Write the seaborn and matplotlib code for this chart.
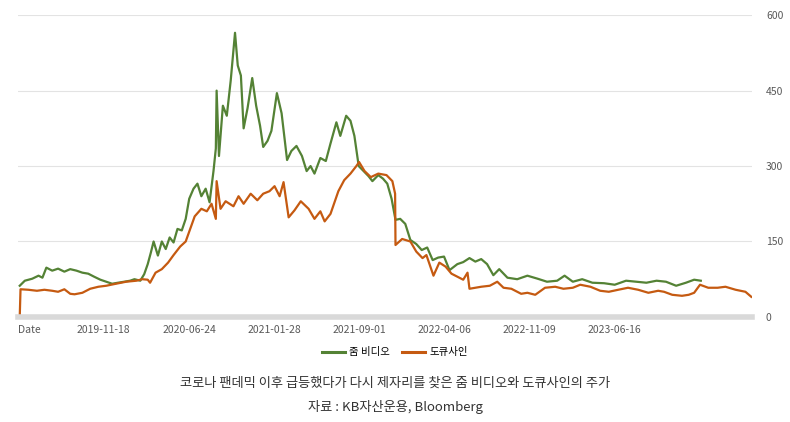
import matplotlib
matplotlib.use("Agg")
import matplotlib.pyplot as plt
import seaborn as sns
import pandas as pd

zoom_dates = ["2019-04-18","2019-05-01","2019-05-20","2019-06-05","2019-06-15","2019-06-25","2019-07-10","2019-07-25","2019-08-10","2019-08-25","2019-09-10","2019-09-25","2019-10-10","2019-10-25","2019-11-10","2019-11-25","2019-12-10","2019-12-25","2020-01-10","2020-01-25","2020-02-05","2020-02-20","2020-03-01","2020-03-10","2020-03-18","2020-03-25","2020-04-05","2020-04-15","2020-04-25","2020-05-05","2020-05-15","2020-05-25","2020-06-05","2020-06-15","2020-06-24","2020-07-05","2020-07-15","2020-07-25","2020-08-05","2020-08-15","2020-08-25","2020-08-31","2020-09-02","2020-09-08","2020-09-18","2020-09-28","2020-10-08","2020-10-19","2020-10-26","2020-11-03","2020-11-10","2020-11-20","2020-12-02","2020-12-12","2020-12-22","2020-12-30","2021-01-10","2021-01-20","2021-02-03","2021-02-15","2021-03-01","2021-03-12","2021-03-25","2021-04-08","2021-04-20","2021-04-30","2021-05-10","2021-05-25","2021-06-08","2021-06-20","2021-07-05","2021-07-15","2021-07-30","2021-08-10","2021-08-20","2021-08-31","2021-09-10","2021-09-25","2021-10-05","2021-10-20","2021-11-01","2021-11-12","2021-11-23","2021-12-03","2021-12-15","2021-12-28","2022-01-10","2022-01-25","2022-02-08","2022-02-22","2022-03-08","2022-03-22","2022-04-06","2022-04-20","2022-05-10","2022-05-25","2022-06-10","2022-06-25","2022-07-10","2022-07-25","2022-08-10","2022-08-25","2022-09-15","2022-10-10","2022-11-05","2022-12-01","2022-12-25","2023-01-20","2023-02-08","2023-03-01","2023-03-25","2023-04-20","2023-05-20","2023-06-16","2023-07-15","2023-08-10","2023-09-05","2023-10-01","2023-10-25","2023-11-20","2023-12-15","2024-01-05","2024-01-22"]
zoom_vals = [62,72,76,82,78,98,92,96,90,95,92,88,86,80,74,70,66,68,70,72,75,72,85,105,128,150,122,150,135,158,148,175,172,195,235,255,265,240,255,228,290,335,450,320,420,400,470,565,500,480,375,415,475,420,380,338,350,370,445,405,312,330,340,320,290,300,285,316,310,345,387,360,400,390,360,300,292,280,270,282,275,265,235,193,195,185,153,145,133,138,113,118,120,93,105,109,117,110,115,105,83,95,78,75,82,76,70,72,82,70,75,68,67,64,72,70,68,72,70,62,68,74,72]

docu_dates = ["2019-04-18","2019-04-20","2019-05-10","2019-06-01","2019-06-20","2019-07-10","2019-07-25","2019-08-10","2019-08-25","2019-09-05","2019-09-25","2019-10-15","2019-11-05","2019-11-25","2019-12-20","2020-01-15","2020-02-10","2020-02-25","2020-03-10","2020-03-16","2020-03-30","2020-04-15","2020-05-01","2020-05-15","2020-06-01","2020-06-15","2020-07-08","2020-07-25","2020-08-08","2020-08-20","2020-08-31","2020-09-02","2020-09-12","2020-09-25","2020-10-15","2020-10-28","2020-11-10","2020-11-28","2020-12-15","2020-12-30","2021-01-15","2021-01-28","2021-02-10","2021-02-20","2021-03-05","2021-03-20","2021-04-05","2021-04-25","2021-05-10","2021-05-25","2021-06-05","2021-06-20","2021-07-10","2021-07-25","2021-08-10","2021-08-25","2021-09-01","2021-09-15","2021-10-01","2021-10-20","2021-11-10","2021-11-25","2021-12-02","2021-12-03","2021-12-20","2022-01-10","2022-01-25","2022-02-10","2022-02-20","2022-03-10","2022-03-25","2022-04-10","2022-04-25","2022-05-10","2022-05-25","2022-06-05","2022-06-10","2022-07-10","2022-08-01","2022-08-20","2022-09-05","2022-09-25","2022-10-20","2022-11-05","2022-11-25","2022-12-20","2023-01-15","2023-02-05","2023-03-01","2023-03-20","2023-04-15","2023-05-10","2023-06-01","2023-06-25","2023-07-20","2023-08-15","2023-09-10","2023-10-05","2023-10-20","2023-11-10","2023-12-05","2023-12-22","2024-01-05","2024-01-20","2024-02-10","2024-03-05","2024-03-25","2024-04-20","2024-05-15","2024-05-30"]
docu_vals = [0,55,54,52,54,52,50,55,46,45,48,56,60,62,66,70,72,75,74,68,88,95,108,123,140,150,200,215,210,225,195,270,215,230,220,240,225,245,232,245,250,260,240,268,198,212,230,215,195,210,190,205,250,272,285,300,308,290,278,285,282,270,245,143,155,150,130,117,123,82,108,100,86,80,74,88,56,60,62,70,58,56,46,48,44,58,60,56,58,64,60,52,50,54,58,54,48,52,50,44,42,44,48,64,58,58,60,54,50,40]

tick_dates = ["2019-11-18","2020-06-24","2021-01-28","2021-09-01","2022-04-06","2022-11-09","2023-06-16"]
y_ticks = [0,150,300,450,600]

df = pd.concat([
    pd.DataFrame({"date": pd.to_datetime(zoom_dates), "price": zoom_vals, "name": "줌 비디오"}),
    pd.DataFrame({"date": pd.to_datetime(docu_dates), "price": docu_vals, "name": "도큐사인"}),
])

plt.rcParams["font.family"] = ["Noto Sans CJK JP", "Noto Sans CJK KR", "DejaVu Sans"]
fig = plt.figure(figsize=(7.9, 4.22), dpi=100)
ax = fig.add_axes([0.023, 0.249, 0.929, 0.715])
sns.lineplot(data=df, x="date", y="price", hue="name",
             palette={"줌 비디오": "#548235", "도큐사인": "#c55a11"},
             linewidth=1.6, ax=ax, legend=False)
ax.set_ylim(0, 600)
ax.set_xlim(pd.Timestamp("2019-04-14"), pd.Timestamp("2024-06-01"))
ax.yaxis.tick_right()
ax.set_yticks(y_ticks)
ax.set_yticklabels([str(v) for v in y_ticks])
ax.set_xticks([pd.Timestamp("2019-04-14")] + list(pd.to_datetime(tick_dates)))
ax.set_xticklabels(["Date"] + tick_dates)
ax.tick_params(length=0, labelsize=7.5, colors="#595959", pad=6)
ax.tick_params(axis="y", pad=10)
ax.get_xticklabels()[0].set_horizontalalignment("left")
ax.grid(axis="y", color="#e3e3e3", linewidth=0.8)
ax.set_axisbelow(True)
for s in ["top", "left", "right"]:
    ax.spines[s].set_visible(False)
ax.spines["bottom"].set_color("#d9d9d9")
ax.spines["bottom"].set_linewidth(4)
ax.set_xlabel("")
ax.set_ylabel("")

from matplotlib.lines import Line2D
handles = [Line2D([], [], color="#548235", lw=2.2), Line2D([], [], color="#c55a11", lw=2.2)]
fig.legend(handles, ["줌 비디오", "도큐사인"], loc="center", bbox_to_anchor=(0.5, 0.165),
           ncol=2, frameon=False, fontsize=7.5, handlelength=2.2, columnspacing=1.2, handletextpad=0.4)
fig.text(0.5, 0.092, "코로나 팬데믹 이후 급등했다가 다시 제자리를 찾은 줌 비디오와 도큐사인의 주가",
         ha="center", va="center", fontsize=9.5, color="#333333")
fig.text(0.5, 0.035, "자료 : KB자산운용, Bloomberg", ha="center", va="center", fontsize=9.5, color="#333333")
fig.savefig("out.png", dpi=100, facecolor="white")
